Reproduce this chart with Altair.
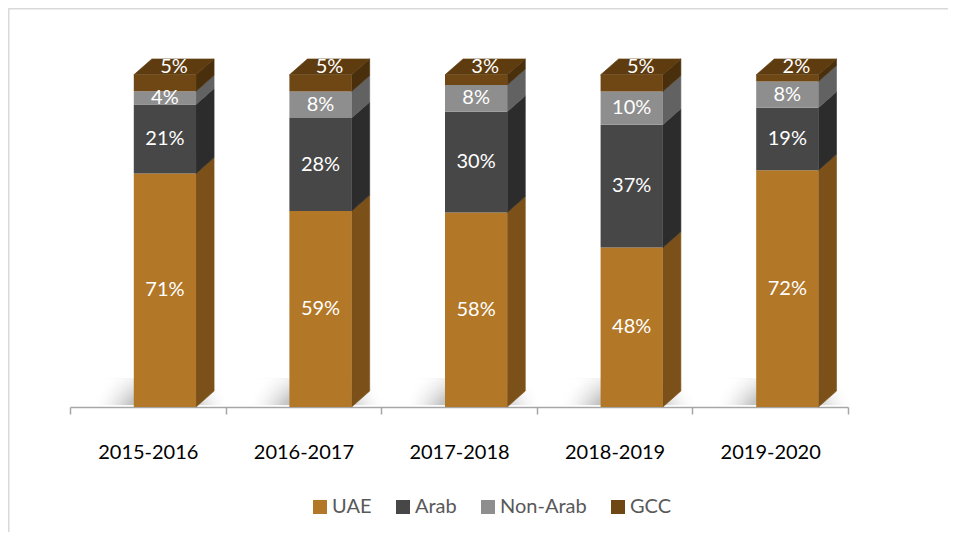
import altair as alt
import pandas as pd

# ---- data ----
categories = ["2015-2016", "2016-2017", "2017-2018", "2018-2019", "2019-2020"]
series = ["UAE", "Arab", "Non-Arab", "GCC"]
uae = [71, 59, 58, 48, 72]
arab = [21, 28, 30, 37, 19]
non_arab = [4, 8, 8, 10, 8]
gcc = [5, 5, 3, 5, 2]

# ---- style ----
front_colors = ["#B27727", "#474747", "#8E8E8E", "#6E4714"]
side_colors = ["#7C5119", "#2C2C2C", "#626262", "#4A2F0C"]
top_color = "#5E3C0F"
FONT = "Lato"

BAR_L, BAR_R = 0.41, 0.81   # front face inside each category slot
DX, DY = 0.116, 4.8         # 3-D depth (x in slot units, y in percent units)
W, H = 778, 367
YMAX = 110.5

values = {"UAE": uae, "Arab": arab, "Non-Arab": non_arab, "GCC": gcc}
front_rows, side_rows, top_rows, label_rows, shadow_rows = [], [], [], [], []
for i, cat in enumerate(categories):
    total = sum(values[s][i] for s in series)
    x0, x1 = i + BAR_L, i + BAR_R
    shadow_rows.append(dict(sx0=x0 - 0.3, sx1=x1 + DX + 0.14, sy0=0.5, sy1=8.5))
    lo = 0.0
    for k, s in enumerate(series):
        v = values[s][i]
        hi = lo + v / total * 100
        front_rows.append(dict(cat=cat, series=s, x0=x0, x1=x1, y0=lo, y1=hi))
        seg = f"{i}-{k}"
        side_rows.append(dict(seg=seg, x=x1, ya=lo, yb=hi, c=side_colors[k]))
        side_rows.append(dict(seg=seg, x=x1 + DX, ya=lo + DY, yb=hi + DY, c=side_colors[k]))
        if s == "GCC":
            label_rows.append(dict(lab=f"{v}%", lx=(x0 + x1) / 2 + DX / 2, ly=hi + DY / 2))
        else:
            label_rows.append(dict(lab=f"{v}%", lx=(x0 + x1) / 2, ly=(lo + hi) / 2))
        lo = hi
    T = lo
    top_rows += [
        dict(seg=i, x=x0, ya=T, yb=T),
        dict(seg=i, x=x0 + DX, ya=T, yb=T + DY),
        dict(seg=i, x=x1, ya=T, yb=T + DY),
        dict(seg=i, x=x1 + DX, ya=T + DY, yb=T + DY),
    ]

front_df = pd.DataFrame(front_rows)
side_df = pd.DataFrame(side_rows)
top_df = pd.DataFrame(top_rows)
label_df = pd.DataFrame(label_rows)
shadow_df = pd.DataFrame(shadow_rows)

xs = alt.Scale(domain=[0, 5], nice=False, zero=False)
ys = alt.Scale(domain=[0, YMAX], nice=False, zero=False)

label_expr = "(" + str(categories) + ")[datum.value] || ''"
xaxis = alt.Axis(
    values=[0, 1, 2, 3, 4, 5], grid=False, domainColor="#A6A6A6", domainWidth=1.5,
    tickColor="#A6A6A6", tickSize=7, tickWidth=1.5, labelExpr=label_expr,
    labelOffset=W / 10, labelFont=FONT, labelFontSize=20, labelColor="#000000",
    labelPadding=28, labelFlush=False, labelOverlap=False, title=None,
)


def X(field):
    return alt.X(field, scale=xs, axis=xaxis, title=None)


def Y(field):
    return alt.Y(field, scale=ys, axis=None)


shadow = alt.Chart(shadow_df).mark_rect(
    color=alt.RadialGradient(
        gradient="radial",
        stops=[alt.GradientStop(color="rgba(140,140,140,1)", offset=0),
               alt.GradientStop(color="rgba(185,185,185,0.8)", offset=0.55),
               alt.GradientStop(color="rgba(255,255,255,0)", offset=1)],
        x1=0.5, y1=0.75, r1=0, x2=0.5, y2=0.75, r2=0.5,
    )
).encode(x=X("sx0:Q"), x2="sx1:Q", y=Y("sy0:Q"), y2="sy1:Q")

sides = alt.Chart(side_df).mark_area(strokeWidth=0.6).encode(
    x=X("x:Q"), y=Y("ya:Q"), y2="yb:Q",
    detail="seg:N",
    color=alt.Color("c:N", scale=None),
    stroke=alt.Stroke("c:N", scale=None),
)

tops = alt.Chart(top_df).mark_area(color=top_color, stroke=top_color, strokeWidth=0.6).encode(
    x=X("x:Q"), y=Y("ya:Q"), y2="yb:Q", detail="seg:N",
)

fronts = alt.Chart(front_df).mark_rect().encode(
    x=X("x0:Q"), x2="x1:Q", y=Y("y0:Q"), y2="y1:Q",
    color=alt.Color(
        "series:N",
        scale=alt.Scale(domain=series, range=front_colors),
        legend=alt.Legend(
            title=None, orient="none", legendX=240, legendY=457, direction="horizontal",
            symbolType="square", symbolSize=196, symbolStrokeWidth=0, labelFont=FONT,
            labelFontSize=20, labelColor="#595959", labelOffset=2, columnPadding=21, padding=0,
        ),
    ),
)

labels = alt.Chart(label_df).mark_text(
    color="white", font=FONT, fontSize=20, align="center", baseline="middle"
).encode(x=X("lx:Q"), y=Y("ly:Q"), text="lab:N")

one = alt.Data(values=[{"a": 1}])
border_top = alt.Chart(one).mark_rule(color="#D9D9D9", strokeWidth=2).encode(
    x=alt.value(-61.5), x2=alt.value(900), y=alt.value(-31.5)
)
border_left = alt.Chart(one).mark_rule(color="#D9D9D9", strokeWidth=2).encode(
    x=alt.value(-61.5), y=alt.value(-31.5), y2=alt.value(520)
)

chart = alt.layer(
    shadow, sides, tops, fronts, labels, border_top, border_left
).properties(
    width=W, height=H,
    autosize=alt.AutoSizeParams(type="none"),
    padding={"left": 62, "top": 32, "right": 100, "bottom": 125},
    background="white",
).configure_view(stroke=None)

chart.save("out.html", embed_options={"renderer": "svg", "actions": False})
